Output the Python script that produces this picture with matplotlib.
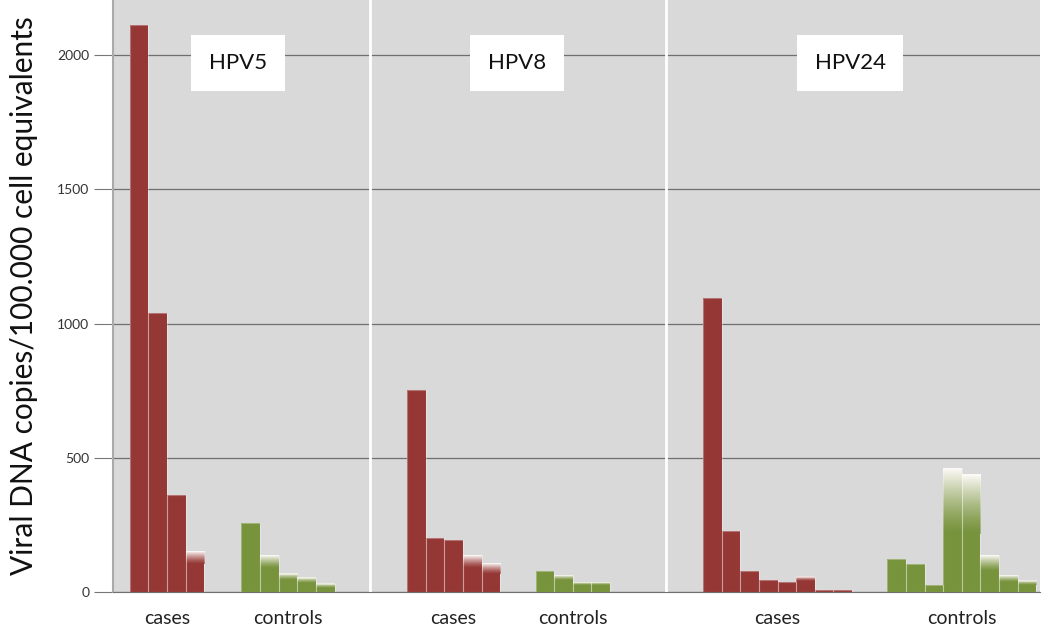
import matplotlib.pyplot as plt
import numpy as np
from matplotlib.colors import to_rgb

plt.rcParams['font.family'] = ['Lato', 'DejaVu Sans']

panels = ['HPV5', 'HPV8', 'HPV24']
groups = ['cases', 'controls']

# bar tops (including faded part) and top of the solid part
hpv5_cases = [2113, 1041, 362, 151]
hpv5_cases_solid = [2113, 1041, 362, 105]
hpv5_controls = [257, 136, 68, 53, 30]
hpv5_controls_solid = [257, 90, 45, 32, 15]

hpv8_cases = [752, 202, 194, 138, 107]
hpv8_cases_solid = [752, 202, 194, 90, 68]
hpv8_controls = [78, 63, 36, 36]
hpv8_controls_solid = [78, 45, 26, 26]

hpv24_cases = [1095, 229, 80, 46, 37, 56, 9, 6]
hpv24_cases_solid = [1095, 229, 80, 46, 37, 41, 9, 6]
hpv24_controls = [124, 103, 27, 462, 437, 136, 62, 41]
hpv24_controls_solid = [124, 103, 27, 217, 217, 80, 37, 25]

tops = [hpv5_cases, hpv5_controls, hpv8_cases, hpv8_controls, hpv24_cases, hpv24_controls]
solids = [hpv5_cases_solid, hpv5_controls_solid, hpv8_cases_solid, hpv8_controls_solid,
          hpv24_cases_solid, hpv24_controls_solid]

# layout (in bar-width units)
group_start = [0.9, 6.9, 15.8, 22.7, 31.7, 41.6]
dividers = [13.8, 29.7]
title_x = [6.7, 21.7, 39.6]

red = '#953735'
green = '#77933C'

fig = plt.figure(figsize=(10.5, 6.36), dpi=100)
ax = fig.add_axes([113/1050, 1 - 592/636, 927/1050, 592/636])
ax.set_facecolor('#D9D9D9')

for i, (top, solid) in enumerate(zip(tops, solids)):
    col = red if i % 2 == 0 else green
    x = group_start[i] + np.arange(len(top))
    ax.bar(x, solid, width=1, align='edge', color=col, linewidth=0, zorder=3)
    base = np.array(to_rgb(col))
    for xi, t, s in zip(x, top, solid):
        if t > s:
            f = np.linspace(0, 1, 64)[:, None] ** 1.3
            grad = base * (1 - f) + np.array([0.99, 0.98, 0.97]) * f
            ax.imshow(grad[:, None, :], extent=(xi, xi + 1, s, t), origin='lower',
                      aspect='auto', interpolation='bilinear', zorder=3)
    # thin light separators between bars
    ax.bar(x, top, width=1, align='edge', facecolor='none',
           edgecolor=(1, 1, 1, 0.3), linewidth=0.8, zorder=3.5)

for d in dividers:
    ax.axvline(d, color='white', lw=2, zorder=4)

for name, tx in zip(panels, title_x):
    ax.text(tx, 1970, name, ha='center', va='center', fontsize=16, color='#111',
            zorder=5, bbox=dict(boxstyle='square,pad=0.8', fc='white', ec='none'))

ax.set_xlim(0, 49.8)
ax.set_ylim(0, 2205)
ax.set_yticks([0, 500, 1000, 1500, 2000])
ax.yaxis.grid(True, color='#6f6f6f', lw=0.9, zorder=1)
ax.set_axisbelow(True)

centers = [s + len(t) / 2 for s, t in zip(group_start, tops)]
ax.set_xticks(centers)
ax.set_xticklabels(groups * 3, fontsize=14, color='#222')
ax.tick_params(axis='x', length=0, pad=13)
ax.tick_params(axis='y', direction='out', length=14, color='#777', labelsize=10,
               labelcolor='#333', pad=3)

for side in ['top', 'right']:
    ax.spines[side].set_visible(False)
ax.spines['left'].set_color('#aaaaaa')
ax.spines['left'].set_linewidth(1.5)
ax.spines['bottom'].set_color('#6f6f6f')

ax.set_ylabel('Viral DNA copies/100.000 cell equivalents', fontsize=21.5, color='#111', labelpad=14)

fig.savefig('out.png', dpi=100)
